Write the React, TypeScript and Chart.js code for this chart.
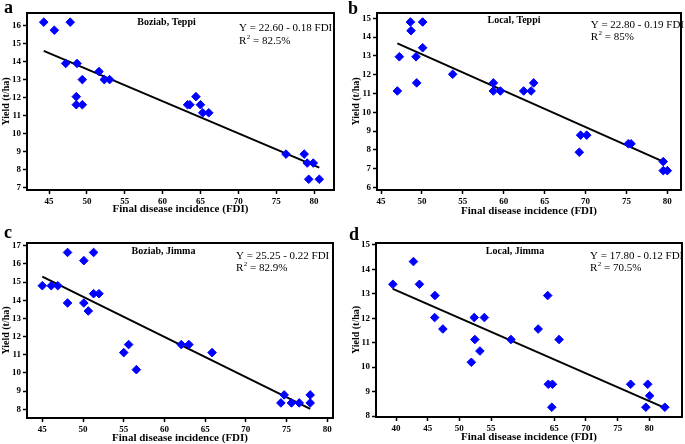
import React, { useEffect, useRef } from 'react';
import { Chart, registerables } from 'chart.js';

Chart.register(...registerables);

// ---------- Data ----------
// Panel a: Boziab, Teppi
const xA = [44.3, 45.7, 47.8, 47.2, 48.7, 48.6, 48.6, 49.4, 49.4, 51.6, 52.3, 53.0, 63.3, 63.6, 64.4, 65.0, 65.3, 66.1, 76.3, 78.7, 79.1, 79.9, 79.3, 80.7];
const yA = [16.2, 15.75, 16.2, 13.9, 13.9, 12.05, 11.6, 11.6, 13.0, 13.45, 13.0, 13.0, 11.6, 11.6, 12.05, 11.6, 11.15, 11.15, 8.85, 8.85, 8.35, 8.35, 7.45, 7.45];
const fitXA = [44.3, 80.7];
const fitYA = [14.6, 8.1];

// Panel b: Local, Teppi
const xB = [47.0, 47.24, 48.59, 48.67, 49.28, 49.36, 50.09, 50.09, 53.76, 58.73, 58.73, 59.59, 62.44, 63.34, 63.66, 69.24, 69.4, 70.15, 75.23, 75.56, 79.5, 79.5, 80.0];
const yB = [11.13, 12.95, 14.8, 14.34, 12.95, 11.56, 14.8, 13.43, 12.02, 11.56, 11.13, 11.13, 11.13, 11.13, 11.56, 7.87, 8.78, 8.78, 8.32, 8.32, 7.37, 6.89, 6.89];
const fitXB = [47.0, 79.5];
const fitYB = [13.66, 7.37];

// Panel c: Boziab, Jimma
const xC = [45.0, 46.1, 46.9, 48.1, 48.1, 50.1, 50.1, 50.65, 51.3, 51.3, 51.96, 55.0, 55.6, 56.55, 62.07, 63.0, 65.85, 74.3, 74.7, 75.6, 76.55, 77.9, 77.9];
const yC = [14.8, 14.8, 14.8, 16.63, 13.85, 16.18, 13.85, 13.41, 16.63, 14.36, 14.36, 11.12, 11.56, 10.18, 11.56, 11.56, 11.12, 8.35, 8.79, 8.35, 8.35, 8.79, 8.35];
const fitXC = [45.0, 77.9];
const fitYC = [15.3, 8.02];

// Panel d: Local, Jimma
const xD = [39.5, 42.75, 43.7, 46.15, 46.1, 47.4, 52.35, 52.45, 53.25, 51.9, 53.95, 58.15, 62.45, 63.95, 64.05, 64.7, 64.6, 65.75, 77.05, 79.75, 80.05, 79.45, 82.45];
const yD = [13.39, 14.32, 13.39, 12.93, 12.03, 11.56, 12.03, 11.13, 10.66, 10.2, 12.03, 11.13, 11.56, 12.93, 9.3, 9.3, 8.36, 11.13, 9.3, 9.3, 8.83, 8.36, 8.36];
const fitXD = [39.5, 82.45];
const fitYD = [13.2, 8.33];

// Tick labels
const xTicksABC = [45, 50, 55, 60, 65, 70, 75, 80];
const xTicksD = [40, 45, 50, 55, 65, 70, 75, 80];
const yTicksA = [7, 8, 9, 10, 11, 12, 13, 14, 15, 16];
const yTicksB = [6, 7, 8, 9, 10, 11, 12, 13, 14, 15];
const yTicksC = [8, 9, 10, 11, 12, 13, 14, 15, 16, 17];
const yTicksD = [8, 9, 10, 11, 12, 13, 14, 15];

// Texts
const panelLetters = ['a', 'b', 'c', 'd'];
const panelTitles = ['Boziab, Teppi', 'Local, Teppi', 'Boziab, Jimma', 'Local, Jimma'];
const equations = ['Y = 22.60 - 0.18 FDI', 'Y = 22.80 - 0.19 FDI', 'Y = 25.25 - 0.22 FDI', 'Y = 17.80 - 0.12 FDI'];
const r2Values = ['82.5%', '85%', '82.9%', '70.5%'];
const xAxisTitle = 'Final disease incidence (FDI)';
const yAxisTitle = 'Yield (t/ha)';

const SERIF = '"Liberation Serif", "Times New Roman", serif';

// ---------- Layout ----------
const PANELS = [
  {
    xs: xA, ys: yA, fx: fitXA, fy: fitYA, xt: xTicksABC, yt: yTicksA,
    left: 0, top: 0, w: 342, h: 222,
    pad: { left: 0, top: 13, right: 8, bottom: 0 }, yW: 27, xH: 32,
    xMin: 42.09, xMax: 82.64, yMin: 6.85, yMax: 16.71,
    yTitlePad: 0, xTitlePad: 7.5,
    letter: [4, 13], title: [166.5, 22.7], eq: [239, 28.3, 40.7],
  },
  {
    xs: xB, ys: yB, fx: fitXB, fy: fitYB, xt: xTicksABC, yt: yTicksB,
    left: 342, top: 0, w: 343, h: 222,
    pad: { left: 0, top: 13, right: 4, bottom: 0 }, yW: 35, xH: 32,
    xMin: 44.51, xMax: 81.67, yMin: 5.86, yMax: 15.28,
    yTitlePad: 8, xTitlePad: 5.8,
    letter: [6, 14], title: [172, 20.7], eq: [248.7, 25, 36.7],
  },
  {
    xs: xC, ys: yC, fx: fitXC, fy: fitYC, xt: xTicksABC, yt: yTicksC,
    left: 0, top: 222, w: 342, h: 222,
    pad: { left: 0, top: 21, right: 9, bottom: 0 }, yW: 27, xH: 26,
    xMin: 43.12, xMax: 80.7, yMin: 7.52, yMax: 17.15,
    yTitlePad: 0, xTitlePad: 0.3,
    letter: [4, 16], title: [163.5, 29.7], eq: [236, 33.7, 45.7],
  },
  {
    xs: xD, ys: yD, fx: fitXD, fy: fitYD, xt: xTicksD, yt: yTicksD,
    left: 342, top: 222, w: 343, h: 222,
    pad: { left: 0, top: 21, right: 3, bottom: 0 }, yW: 34, xH: 27,
    xMin: 36.84, xMax: 85.16, yMin: 7.96, yMax: 15.08,
    yTitlePad: 8, xTitlePad: 1.2,
    letter: [7, 18], title: [173, 29], eq: [248, 33.7, 45.7],
  },
];

function Panel({ idx }: { idx: number }) {
  const ref = useRef<HTMLCanvasElement | null>(null);
  const p = PANELS[idx];

  useEffect(() => {
    if (!ref.current) return;
    const deco = {
      id: 'deco' + idx,
      afterDraw(chart: any) {
        const { ctx, chartArea } = chart;
        ctx.save();
        // frame
        ctx.strokeStyle = '#000';
        ctx.lineWidth = 2;
        ctx.strokeRect(chartArea.left, chartArea.top, chartArea.right - chartArea.left, chartArea.bottom - chartArea.top);
        // panel letter
        ctx.fillStyle = '#000';
        ctx.textBaseline = 'alphabetic';
        ctx.textAlign = 'left';
        ctx.font = 'bold 18px ' + SERIF;
        ctx.fillText(panelLetters[idx], p.letter[0], p.letter[1]);
        // panel title
        ctx.textBaseline = 'middle';
        ctx.textAlign = 'center';
        ctx.font = 'bold 10px ' + SERIF;
        ctx.fillText(panelTitles[idx], p.title[0], p.title[1]);
        // equation & R2
        ctx.textAlign = 'left';
        ctx.font = '11px ' + SERIF;
        ctx.fillText(equations[idx], p.eq[0], p.eq[1]);
        ctx.fillText('R', p.eq[0], p.eq[2]);
        const rw = ctx.measureText('R').width;
        ctx.font = '7px ' + SERIF;
        ctx.fillText('2', p.eq[0] + rw + 0.5, p.eq[2] - 4);
        const sw = ctx.measureText('2').width;
        ctx.font = '11px ' + SERIF;
        ctx.fillText(' = ' + r2Values[idx], p.eq[0] + rw + sw + 0.5, p.eq[2]);
        ctx.restore();
      },
    };

    const tickFont = { family: SERIF, size: 9, weight: 'bold' as const };
    const chart = new Chart(ref.current, {
      type: 'scatter',
      data: {
        datasets: [
          {
            type: 'scatter',
            data: p.xs.map((x, k) => ({ x, y: p.ys[k] })),
            pointStyle: 'rectRot',
            pointRadius: 4.3,
            pointHoverRadius: 4.3,
            backgroundColor: '#0000ff',
            borderColor: '#0000ff',
            borderWidth: 1,
            order: 0,
          },
          {
            type: 'line',
            data: p.fx.map((x, k) => ({ x, y: p.fy[k] })),
            borderColor: '#000000',
            borderWidth: 2,
            pointRadius: 0,
            fill: false,
            showLine: true,
            order: 1,
          } as any,
        ],
      },
      options: {
        animation: false,
        responsive: false,
        maintainAspectRatio: false,
        layout: { padding: p.pad, autoPadding: false } as any,
        plugins: { legend: { display: false }, tooltip: { enabled: false } },
        scales: {
          x: {
            type: 'linear',
            position: 'bottom',
            min: p.xMin,
            max: p.xMax,
            afterBuildTicks: (s: any) => { s.ticks = p.xt.map((v) => ({ value: v })); },
            afterFit: (s: any) => { s.height = p.xH; },
            ticks: { font: tickFont, color: '#000', padding: 2, maxRotation: 0, autoSkip: false, callback: (v: any) => String(v) },
            grid: { display: true, drawOnChartArea: false, drawTicks: true, tickLength: 4, tickWidth: 1.5, tickColor: '#000' },
            border: { display: false },
            title: { display: true, text: xAxisTitle, color: '#000', font: { family: SERIF, size: 11, weight: 'bold', lineHeight: 1 }, padding: { top: 0, bottom: p.xTitlePad } },
          },
          y: {
            type: 'linear',
            position: 'left',
            min: p.yMin,
            max: p.yMax,
            afterBuildTicks: (s: any) => { s.ticks = p.yt.map((v) => ({ value: v })); },
            afterFit: (s: any) => { s.width = p.yW; },
            ticks: { font: tickFont, color: '#000', padding: 2, autoSkip: false, callback: (v: any) => String(v) },
            grid: { display: true, drawOnChartArea: false, drawTicks: true, tickLength: 4, tickWidth: 1.5, tickColor: '#000' },
            border: { display: false },
            title: { display: true, text: yAxisTitle, color: '#000', font: { family: SERIF, size: 10, weight: 'bold' }, padding: { top: p.yTitlePad, bottom: 0 } },
          },
        },
      } as any,
      plugins: [deco],
    });
    return () => chart.destroy();
  }, [idx]);

  return (
    <canvas
      ref={ref}
      width={p.w}
      height={p.h}
      style={{ position: 'absolute', left: p.left, top: p.top, width: p.w, height: p.h }}
    />
  );
}

export default function App() {
  return (
    <div style={{ position: 'fixed', left: 0, top: 0, width: 685, height: 444, background: '#fff', overflow: 'hidden' }}>
      {PANELS.map((_, i) => (
        <Panel key={i} idx={i} />
      ))}
    </div>
  );
}
